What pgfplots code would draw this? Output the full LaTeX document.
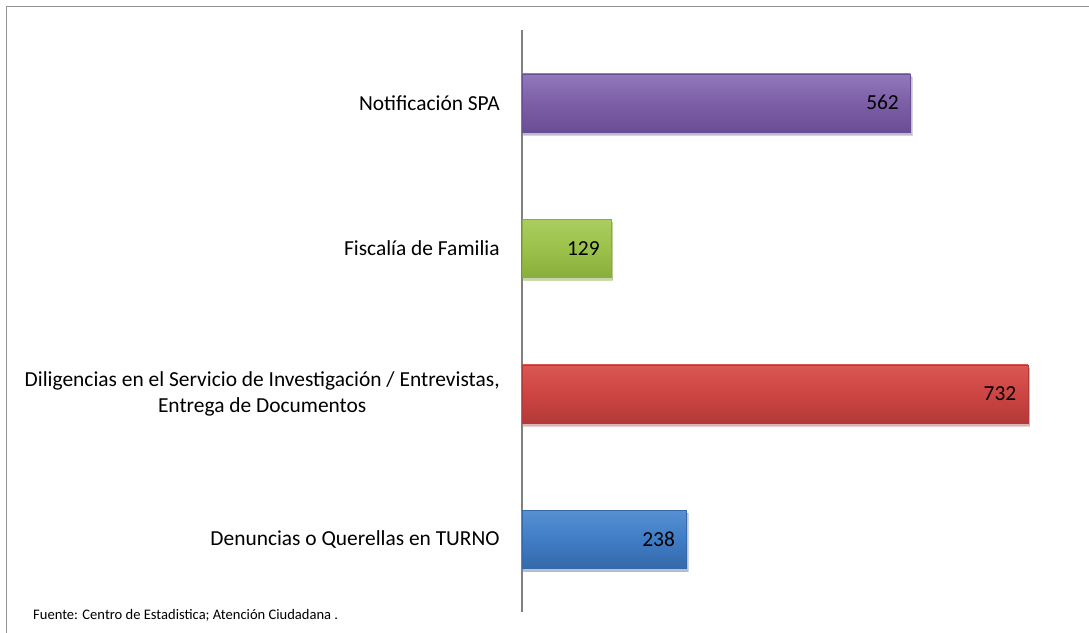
\documentclass[border=0pt]{standalone}
\usepackage{fontspec}
\setmainfont{Carlito}
\usepackage{pgfplots}
\pgfplotsset{compat=1.18}
\usetikzlibrary{shadows}
\definecolor{purT}{HTML}{9279BB}
\definecolor{purM}{HTML}{7C5FA7}
\definecolor{purB}{HTML}{6A4E94}
\definecolor{redT}{HTML}{DB5754}
\definecolor{redM}{HTML}{CD4543}
\definecolor{redB}{HTML}{B23A38}
\definecolor{grnT}{HTML}{ABCD60}
\definecolor{grnM}{HTML}{9CC24B}
\definecolor{grnB}{HTML}{89AF3B}
\definecolor{bluT}{HTML}{5890D2}
\definecolor{bluM}{HTML}{3F7DC6}
\definecolor{bluB}{HTML}{3569AA}
\begin{document}
\begin{tikzpicture}[x=1bp,y=1bp]
\path[use as bounding box] (0,0) rectangle (1089,633);
\draw[color=gray!85, line width=1.5bp] (6.5,0) -- (6.5,626.5) -- (1089,626.5);
\begin{axis}[
  at={(522bp,21bp)}, anchor=south west,
  scale only axis, width=539bp, height=582bp,
  xmin=0, xmax=780, ymin=-0.5, ymax=3.5,
  xbar, bar width=58bp, bar shift=0pt,
  hide x axis,
  axis y line=left,
  y axis line style={-, line width=1.5bp, color=gray},
  ytick={0,1,2,3},
  yticklabels={{Denuncias o Querellas en TURNO},{Diligencias en el Servicio de Investigación / Entrevistas,\\Entrega de Documentos},{Fiscalía de Familia},{Notificación SPA}},
  ytick style={draw=none},
  yticklabel style={align=center, font=\fontsize{21.5}{26}\selectfont, inner sep=0pt, xshift=-20bp},
  nodes near coords, nodes near coords align={left},
  nodes near coords={\pgfmathprintnumber[assume math mode=true]{\pgfplotspointmeta}},
  every node near coord/.append style={font=\fontsize{21.5}{26}\selectfont, xshift=-8bp, color=black},
  /pgf/number format/assume math mode=true,
  clip=false,
]
\addplot[draw=bluB, top color=bluT, bottom color=bluB, middle color=bluM, drop shadow={opacity=0.25, shadow xshift=1.5bp, shadow yshift=-3bp}] coordinates {(238,0)};
\addplot[draw=redB, top color=redT, bottom color=redB, middle color=redM, drop shadow={opacity=0.25, shadow xshift=1.5bp, shadow yshift=-3bp}] coordinates {(732,1)};
\addplot[draw=grnB, top color=grnT, bottom color=grnB, middle color=grnM, drop shadow={opacity=0.25, shadow xshift=1.5bp, shadow yshift=-3bp}] coordinates {(129,2)};
\addplot[draw=purB, top color=purT, bottom color=purB, middle color=purM, drop shadow={opacity=0.25, shadow xshift=1.5bp, shadow yshift=-3bp}] coordinates {(562,3)};
\end{axis}
\node[anchor=west, inner sep=0pt, font=\fontsize{14.6}{17}\selectfont] at (33,18) {Fuente: Centro de Estadistica; Atención Ciudadana .};
\end{tikzpicture}
\end{document}
